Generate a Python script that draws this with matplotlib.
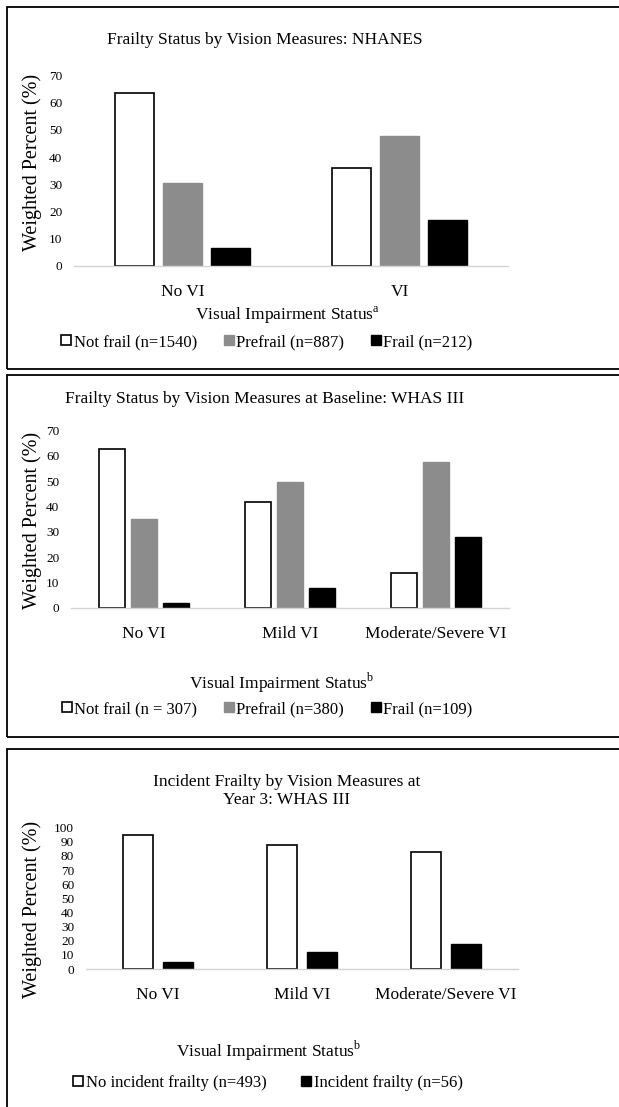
"""
Frailty status by vision measures: three stacked bar-chart panels (NHANES, WHAS III).
"""

import matplotlib
matplotlib.use("Agg")
import matplotlib.pyplot as plt
from matplotlib.patches import Rectangle
import numpy as np

plt.rcParams["font.family"] = ["Liberation Serif", "DejaVu Serif"]
plt.rcParams["mathtext.fontset"] = "custom"
plt.rcParams["mathtext.rm"] = "Liberation Serif"

# ---- data ----
nhanes_cats = ["No VI", "VI"]
nhanes_not_frail = [63.6, 35.9]
nhanes_prefrail = [30.3, 47.8]
nhanes_frail = [6.4, 16.8]
nhanes_labels = ["Not frail (n=1540)", "Prefrail (n=887)", "Frail (n=212)"]

whas_cats = ["No VI", "Mild VI", "Moderate/Severe VI"]
whas_not_frail = [62.9, 41.7, 13.7]
whas_prefrail = [35.1, 49.7, 57.7]
whas_frail = [2.0, 7.9, 27.8]
whas_labels = ["Not frail (n = 307)", "Prefrail (n=380)", "Frail (n=109)"]

inc_cats = ["No VI", "Mild VI", "Moderate/Severe VI"]
inc_no_frailty = [94.8, 87.7, 82.6]
inc_frailty = [5.2, 12.3, 17.4]
inc_labels = ["No incident frailty (n=493)", "Incident frailty (n=56)"]

W, H = 619, 1107
WHITE, GRAY, BLACK = "#ffffff", "#8c8c8c", "#000000"

fig = plt.figure(figsize=(W / 100, H / 100), dpi=100)


def fx(px):
    return px / W


def fy(py):
    return 1 - py / H


def make_axes(left, right, top, bottom):
    return fig.add_axes([fx(left), fy(bottom), fx(right - left), (bottom - top) / H])


def style_axes(ax, cats, ymax, step, tick_size):
    ax.set_xlim(-0.5, len(cats) - 0.5)
    ax.set_ylim(0, ymax)
    ax.set_yticks(np.arange(0, ymax + 1, step))
    ax.set_xticks(range(len(cats)))
    ax.set_xticklabels(cats, fontsize=12.5)
    for s in ["top", "right", "left"]:
        ax.spines[s].set_visible(False)
    ax.spines["bottom"].set_color("#d4d4d4")
    ax.spines["bottom"].set_linewidth(1.0)
    ax.tick_params(axis="y", length=0, pad=8.5, labelsize=tick_size)
    ax.tick_params(axis="x", length=0, pad=13)
    ax.set_facecolor("none")


def panel_frame(top, bottom):
    fig.patches.append(Rectangle((fx(7), fy(bottom)), 1.2, (bottom - top) / H,
                                 transform=fig.transFigure, fill=False,
                                 edgecolor="black", linewidth=1.3))


def draw_legend(handles, labels, cx, cy, spacing):
    fig.legend(handles, labels, loc="center", bbox_to_anchor=(fx(cx), fy(cy)),
               ncol=len(labels), frameon=False, fontsize=12, handlelength=0.6,
               handleheight=0.6, handletextpad=0.15, columnspacing=spacing,
               borderpad=0)


# ---- panel 1: NHANES ----
panel_frame(7, 369)
ax1 = make_axes(74, 508, 75.7, 265.7)
x = np.arange(len(nhanes_cats))
w = 0.18
b1 = ax1.bar(x - 0.22, nhanes_not_frail, w, color=WHITE, edgecolor=BLACK, linewidth=1.2)
b2 = ax1.bar(x, nhanes_prefrail, w, color=GRAY, edgecolor=GRAY)
b3 = ax1.bar(x + 0.22, nhanes_frail, w, color=BLACK, edgecolor=BLACK)
style_axes(ax1, nhanes_cats, 70, 10, 9.5)
fig.text(fx(265), fy(40), "Frailty Status by Vision Measures: NHANES",
         ha="center", va="center", fontsize=12.5)
fig.text(fx(32), fy(162), "Weighted Percent (%)", rotation=90,
         ha="center", va="center", fontsize=14.5)
fig.text(fx(287), fy(315), r"Visual Impairment Status$^{\mathrm{a}}$",
         ha="center", va="center", fontsize=12.5)
draw_legend([b1, b2, b3], nhanes_labels, 267, 342, 1.6)

# ---- panel 2: WHAS III baseline ----
panel_frame(375, 737)
ax2 = make_axes(71, 509, 430.7, 607.7)
x = np.arange(len(whas_cats))
c1 = ax2.bar(x - 0.22, whas_not_frail, w, color=WHITE, edgecolor=BLACK, linewidth=1.2)
c2 = ax2.bar(x, whas_prefrail, w, color=GRAY, edgecolor=GRAY)
c3 = ax2.bar(x + 0.22, whas_frail, w, color=BLACK, edgecolor=BLACK)
style_axes(ax2, whas_cats, 70, 10, 9.5)
fig.text(fx(265), fy(399), "Frailty Status by Vision Measures at Baseline: WHAS III",
         ha="center", va="center", fontsize=12.5)
fig.text(fx(32), fy(520), "Weighted Percent (%)", rotation=90,
         ha="center", va="center", fontsize=14.5)
fig.text(fx(282), fy(683), r"Visual Impairment Status$^{\mathrm{b}}$",
         ha="center", va="center", fontsize=12.5)
draw_legend([c1, c2, c3], whas_labels, 267, 709, 1.6)

# ---- panel 3: incident frailty at year 3 ----
panel_frame(749, 1120)
ax3 = make_axes(86, 518, 827.7, 969)
x = np.arange(len(inc_cats))
d1 = ax3.bar(x - 0.14, inc_no_frailty, 0.21, color=WHITE, edgecolor=BLACK, linewidth=1.2)
d2 = ax3.bar(x + 0.14, inc_frailty, 0.21, color=BLACK, edgecolor=BLACK)
style_axes(ax3, inc_cats, 100, 10, 9.5)
fig.text(fx(287), fy(791), "Incident Frailty by Vision Measures at\nYear 3: WHAS III",
         ha="center", va="center", fontsize=12.5, linespacing=1.2)
fig.text(fx(32), fy(909), "Weighted Percent (%)", rotation=90,
         ha="center", va="center", fontsize=14.5)
fig.text(fx(269), fy(1051), r"Visual Impairment Status$^{\mathrm{b}}$",
         ha="center", va="center", fontsize=12.5)
draw_legend([d1, d2], inc_labels, 268, 1083, 2.1)

fig.savefig("out.png", dpi=100, facecolor="white")
